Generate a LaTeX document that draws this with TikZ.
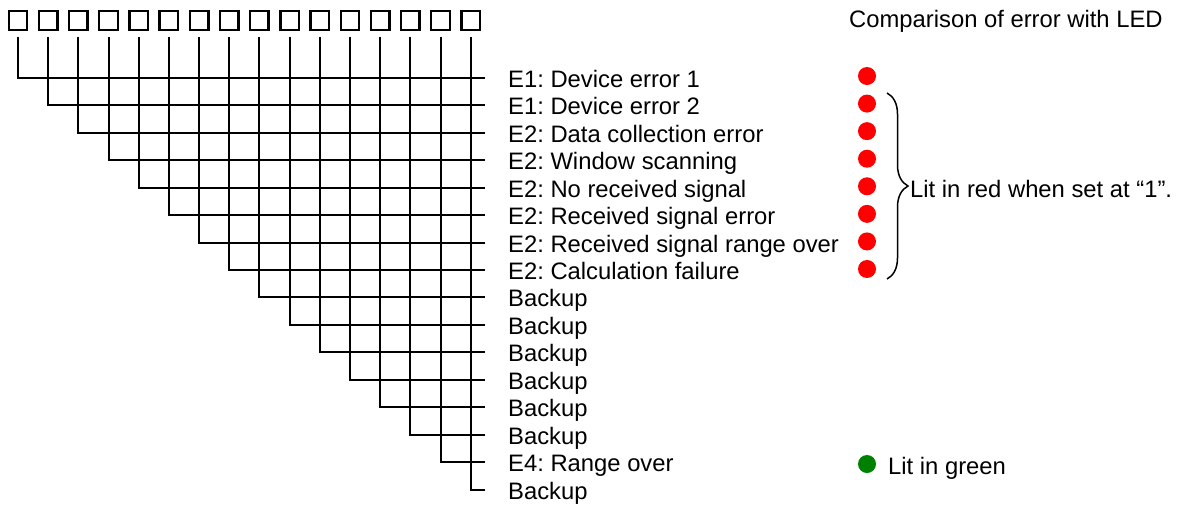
\documentclass[tikz,border=0pt]{standalone}
\usepackage{fontspec}
\setmainfont{Liberation Sans}
\usetikzlibrary{decorations.pathreplacing}
\definecolor{ledgreen}{RGB}{0,128,0}
\frenchspacing

\begin{document}
\begin{tikzpicture}[x=1pt, y=-1pt,
  bit/.style={draw, line width=2.4pt, minimum size=18.5pt, inner sep=0pt},
  wire/.style={line width=2pt},
  lab/.style={font=\fontsize{23.8}{28}\selectfont, inner sep=0pt, anchor=base west},
  led/.style={circle, fill=#1, minimum size=18pt, inner sep=0pt},
  led/.default=red]
\useasboundingbox (0,0) rectangle (1178,507);
\node[lab] (hdr) at (849,27.5) {Comparison of error with LED};
% bits, wires and their meanings
\foreach \t [count=\i] in {E1: Device error 1, E1: Device error 2,
    E2: Data collection error, E2: Window scanning, E2: No received signal,
    E2: Received signal error, E2: Received signal range over,
    E2: Calculation failure, Backup, Backup, Backup, Backup, Backup, Backup,
    E4: Range over, Backup} {
  \node[bit] (b\i) at ({18+30.18*(\i-1)},20.5) {};
  \coordinate (e\i) at (485,{77.7+27.47*(\i-1)});
  \node[lab] (l\i) at ([xshift=23pt,yshift=-9.5pt]e\i) {\t};
  \draw[wire, shorten <=6pt] (b\i.south) |- (e\i);
}
% LEDs
\foreach \i in {1,...,8}
  \node[led] (r\i) at (867,{76+27.57*(\i-1)}) {};
\coordinate (bt) at (887,93);
\coordinate (bb) at (887,279);
\draw[line width=1.5pt, decorate, decoration={brace, amplitude=21pt}] (bt) -- (bb);
\node[lab] (redtxt) at (910,197) {Lit in red when set at “1”.};
\node[led=ledgreen] (g) at (867,464) {};
\node[lab] (grntxt) at (888,474) {Lit in green};
\end{tikzpicture}
\end{document}
